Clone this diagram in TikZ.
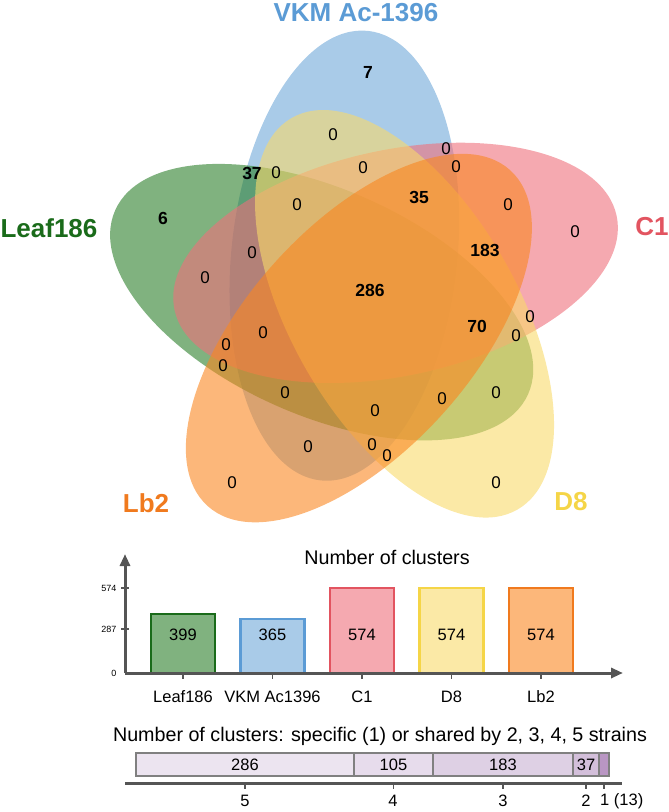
\documentclass[tikz,border=0pt]{standalone}
\usepackage{fontspec}
\setmainfont{Liberation Sans}
\usepackage{tikz}
\usetikzlibrary{arrows.meta,calc}
\definecolor{vnGreen}{RGB}{43,127,42}
\definecolor{vnBlue}{RGB}{112,168,217}
\definecolor{vnPink}{RGB}{238,112,123}
\definecolor{vnYellow}{RGB}{248,218,107}
\definecolor{vnOrange}{RGB}{250,135,33}
\definecolor{lbGreen}{RGB}{26,107,26}
\definecolor{lbBlue}{RGB}{91,155,213}
\definecolor{lbPink}{RGB}{226,84,96}
\definecolor{lbYellow}{RGB}{245,213,71}
\definecolor{lbOrange}{RGB}{240,122,30}
\definecolor{axGray}{RGB}{85,85,85}
\definecolor{segGray}{RGB}{128,128,128}
\definecolor{segFive}{RGB}{236,228,240}
\definecolor{segFour}{RGB}{231,220,236}
\definecolor{segThree}{RGB}{222,208,228}
\definecolor{segTwo}{RGB}{211,191,218}
\definecolor{segOne}{RGB}{185,150,195}

\begin{document}
\begin{tikzpicture}[x=1pt, y=1pt,
  setname/.style={font=\fontsize{26}{26}\selectfont\bfseries},
  zero/.style={font=\fontsize{17}{17}\selectfont},
  bignum/.style={font=\fontsize{17.5}{17.5}\selectfont\bfseries},
  caption/.style={font=\fontsize{19.7}{20}\selectfont},
  barnum/.style={font=\fontsize{16.5}{17}\selectfont},
  axline/.style={axGray, line width=3pt},
  axarrow/.style={axline, -{Triangle[width=10pt,length=12pt]}}]
  \useasboundingbox (0,0) rectangle (669,-812);

  % Venn: five sets, each ellipse turned by 72 degrees
  \coordinate (ctr) at (365,-294.5);
  \foreach \ang/\col in {84/vnBlue, 156/vnGreen, 12/vnPink, 300/vnYellow, 228/vnOrange}
    \fill[\col, fill opacity=0.6] ($(ctr)+({\ang+34}:44)$) ellipse [x radius=226, y radius=113, rotate=\ang];

  \node[setname, text=lbBlue] (nVKM) at (356,-13) {VKM Ac-1396};
  \node[setname, text=lbGreen] (nLeaf) at (49,-228) {Leaf186};
  \node[setname, text=lbPink] (nCone) at (652,-227) {C1};
  \node[setname, text=lbOrange] (nLbtwo) at (146,-503) {Lb2};
  \node[setname, text=lbYellow] (nDeight) at (571,-502) {D8};

  % region counts
  \foreach \x/\y [count=\i] in {333/135, 446/149, 276/173, 363/168, 456/167, 297/205,
      508/205, 575/232, 252/253, 205/278, 530/317, 516/336, 263/333, 226/345, 223/366,
      285/393, 375/411, 442/399, 496/393, 308/447, 372/445, 387/456, 232/483, 496/483}
    \node[zero] (z\i) at (\x,-\y) {0};
  \foreach \x/\y/\n in {368/72/7, 252/173/37, 419/197/35, 163/218/6, 485/250/183,
      370/290/286, 477/326/70}
    \node[bignum] (c\n) at (\x,-\y) {\n};

  % Bar chart: clusters per strain
  \node[caption] (barTitle) at (387,-557) {Number of clusters};
  \foreach \i/\lab/\v/\col/\edge in {0/Leaf186/399/vnGreen/lbGreen, 1/VKM Ac1396/365/vnBlue/lbBlue,
      2/C1/574/vnPink/lbPink, 3/D8/574/vnYellow/lbYellow, 4/Lb2/574/vnOrange/lbOrange} {
    \pgfmathsetmacro{\xc}{183+89.5*\i}
    \pgfmathsetmacro{\yt}{-673+\v/574*85}
    \draw[\edge, line width=2.5pt, fill=\col!60] (\xc-32,-673) rectangle (\xc+32,\yt);
    \node[barnum] (bv\i) at (\xc,-635) {\v};
    \draw[axGray, line width=1.5pt] (\xc,-673) -- (\xc,-679);
    \node[barnum] (bl\i) at (\xc,-697) {\lab};
  }
  \coordinate (yo) at (125,-673);
  \coordinate (ytip) at (125,-554);
  \coordinate (xend) at (623,-673);
  \draw[axarrow] (yo) -- (xend);
  \draw[axarrow] (yo) -- (ytip);
  \foreach \v/\y in {574/588, 287/629} {
    \draw[axGray, line width=1.2pt] (121,-\y) -- (129,-\y);
    \node[font=\fontsize{9}{9}\selectfont, anchor=east] (yt\v) at (120,-\y) {\v};
  }
  \node[font=\fontsize{9}{9}\selectfont, anchor=east] (yt0) at (120,-673) {0};

  % Shared clusters strip
  \node[caption] (stripTitle) at (380,-736) {Number of clusters: specific (1) or shared by 2, 3, 4, 5 strains};
  \foreach \a/\b/\v/\col/\k in {136/354/286/segFive/5, 354/433/105/segFour/4, 433/573/183/segThree/3,
      573/599/37/segTwo/2, 599/609/{}/segOne/1} {
    \draw[segGray, line width=2.5pt, fill=\col] (\a,-753) rectangle (\b,-776);
    \node[barnum] (sv\k) at ({(\a+\b)/2},-764.5) {\v};
    \draw[axGray, line width=1.5pt] ({(\a+\b)/2},-783) -- ({(\a+\b)/2},-789);
  }
  \coordinate (sa) at (125,-783);
  \coordinate (sb) at (622,-783);
  \draw[axline] (sa) -- (sb);
  \foreach \x/\k in {245/5, 393/4, 503/3, 586/2}
    \node[barnum] (sk\k) at (\x,-801) {\k};
  \node[barnum, anchor=west, inner sep=0pt] (sk1) at (600,-801) {1 (13)};
\end{tikzpicture}
\end{document}
